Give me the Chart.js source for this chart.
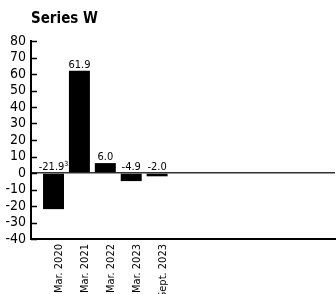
<!DOCTYPE html>
<html>
<head>
<meta charset="utf-8">
<script src="https://cdn.jsdelivr.net/npm/chart.js@4"></script>
<style>
  html, body { margin: 0; padding: 0; background: #fff; }
  #wrap { width: 336px; height: 294px; }
</style>
</head>
<body>
<div id="wrap"><canvas id="chart" width="336" height="294"></canvas></div>
<script>
// data
const categories = ['Mar. 2020', 'Mar. 2021', 'Mar. 2022', 'Mar. 2023', 'Sept. 2023'];
const values = [-21.9, 61.9, 6.0, -4.9, -2.0];
const footnotes = ['3', '', '', '', ''];
const yTicks = [80, 70, 60, 50, 40, 30, 20, 10, 0, -10, -20, -30, -40];

const FONT = "'Liberation Sans Narrow', 'DejaVu Sans Condensed', sans-serif";

// value labels above the bars (negative ones sit on the zero line)
const valueLabels = {
    id: 'valueLabels',
    afterDatasetsDraw(chart) {
        const ctx = chart.ctx;
        const y = chart.scales.y;
        const meta = chart.getDatasetMeta(0);
        ctx.save();
        ctx.fillStyle = '#000';
        ctx.textBaseline = 'alphabetic';
        ctx.textAlign = 'left';
        meta.data.forEach(function(bar, i) {
            const v = values[i];
            const txt = v.toFixed(1);
            ctx.font = '11px ' + FONT;
            const w = ctx.measureText(txt).width;
            ctx.font = '7px ' + FONT;
            const nw = footnotes[i] ? ctx.measureText(footnotes[i]).width : 0;
            const x0 = bar.x - (w + nw) / 2;
            const base = y.getPixelForValue(Math.max(v, 0)) - 3;
            ctx.font = '11px ' + FONT;
            ctx.fillText(txt, x0, base);
            if (footnotes[i]) {
                ctx.font = '7px ' + FONT;
                ctx.fillText(footnotes[i], x0 + w, base - 4);
            }
        });
        ctx.restore();
    }
};

// short tick marks pointing into the plot
const innerTicks = {
    id: 'innerTicks',
    afterDatasetsDraw(chart) {
        const ctx = chart.ctx;
        const y = chart.scales.y;
        const left = chart.chartArea.left;
        ctx.save();
        ctx.strokeStyle = '#000';
        ctx.lineWidth = 1.5;
        yTicks.forEach(function(t) {
            const py = Math.round(y.getPixelForValue(t)) + 0.5;
            ctx.beginPath();
            ctx.moveTo(left, py);
            ctx.lineTo(left + 6, py);
            ctx.stroke();
        });
        ctx.restore();
    }
};

new Chart(document.getElementById('chart'), {
    type: 'bar',
    data: {
        datasets: [{
            data: values.map(function(v, i) { return { x: i, y: v }; }),
            backgroundColor: '#000',
            borderWidth: 0,
            barPercentage: 1,
            categoryPercentage: 0.81
        }]
    },
    options: {
        responsive: false,
        animation: false,
        layout: { padding: { left: 0, right: 1, top: 0, bottom: 0 } },
        plugins: {
            legend: { display: false },
            tooltip: { enabled: false },
            title: {
                display: true,
                text: 'Series W',
                align: 'start',
                fullSize: false,
                color: '#000',
                font: { family: FONT, size: 15, weight: 'bold', lineHeight: 1.2 },
                padding: { top: 10, bottom: 13 }
            }
        },
        scales: {
            x: {
                type: 'linear',
                offset: false,
                min: -0.87,
                max: 10.87,
                grid: { display: true, offset: false, color: 'rgba(0,0,0,0)', drawTicks: false },
                border: { display: true, color: '#000', width: 2 },
                afterBuildTicks: function(scale) {
                    scale.ticks = categories.map(function(c, i) { return { value: i }; });
                },
                afterFit: function(scale) { scale.height = 55; },
                ticks: {
                    autoSkip: false,
                    minRotation: 90,
                    maxRotation: 90,
                    padding: 5,
                    labelOffset: 6,
                    color: '#000',
                    font: { family: FONT, size: 11 },
                    callback: function(v) { return categories[v]; }
                }
            },
            y: {
                min: -40,
                max: 80,
                afterBuildTicks: function(scale) {
                    scale.ticks = yTicks.map(function(t) { return { value: t }; });
                },
                afterFit: function(scale) { scale.width = 31; },
                grid: {
                    drawTicks: false,
                    color: function(c) { return c.tick && c.tick.value === 0 ? '#333' : 'rgba(0,0,0,0)'; },
                    lineWidth: 1.5
                },
                border: { display: true, color: '#000', width: 2 },
                ticks: {
                    autoSkip: false,
                    padding: 5,
                    color: '#000',
                    font: { family: FONT, size: 14 }
                }
            }
        }
    },
    plugins: [valueLabels, innerTicks]
});
</script>
</body>
</html>
